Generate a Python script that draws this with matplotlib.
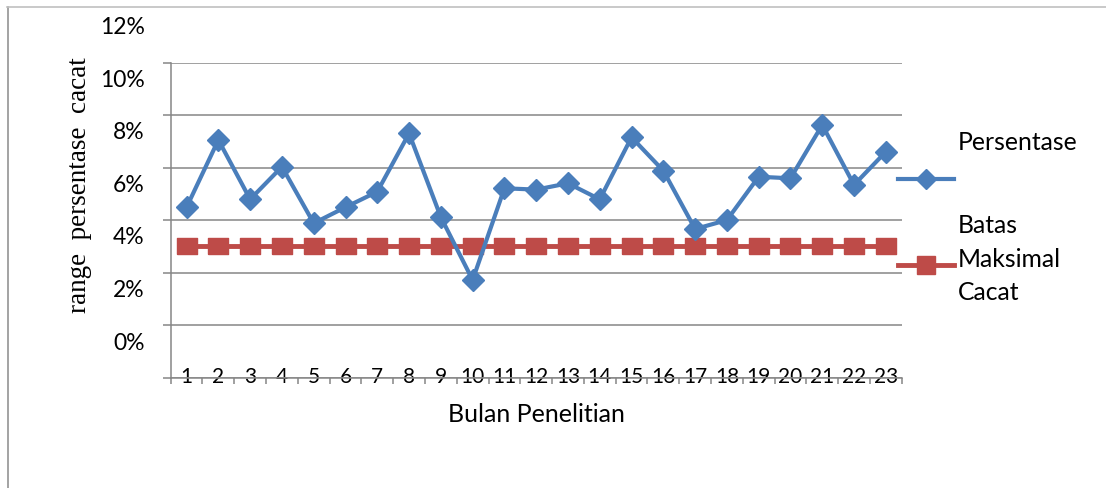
import matplotlib
matplotlib.use("Agg")
import matplotlib.pyplot as plt
from matplotlib.lines import Line2D
from matplotlib.transforms import ScaledTranslation
from matplotlib.ticker import FixedLocator, PercentFormatter

# ---- data ----
months = list(range(1, 24))
persentase = [0.0650, 0.0906, 0.0680, 0.0804, 0.0589, 0.0650, 0.0709, 0.0931,
              0.0612, 0.0373, 0.0722, 0.0717, 0.0741, 0.0680, 0.0916, 0.0789,
              0.0567, 0.0601, 0.0766, 0.0760, 0.0963, 0.0735, 0.0861]
batas = [0.0502] * 23
yticks = [0.00, 0.02, 0.04, 0.06, 0.08, 0.10, 0.12]
series_names = ["Persentase", "Batas\nMaksimal\nCacat"]

W, H, DPI = 1106, 488, 100
BLUE = "#4A7EBB"
RED = "#BE4B48"
GRID = "#868686"
SANS = "Lato"

fig = plt.figure(figsize=(W / DPI, H / DPI), dpi=DPI)

def fx(px):
    return px / W

def fy(py):
    return 1 - py / H

ax = fig.add_axes([fx(170.7), fy(378), fx(901.7) - fx(170.7), fy(62.7) - fy(378)])

ax.plot(months, persentase, color=BLUE, lw=3.0, marker="D", ms=11.5,
        markeredgecolor=BLUE, markerfacecolor=BLUE, solid_joinstyle="miter", zorder=4)
rect = [(-1.25, -1), (1.25, -1), (1.25, 1), (-1.25, 1), (-1.25, -1)]
ax.plot(months, batas, color=RED, lw=3.5, marker=rect, ms=14.5,
        markeredgecolor=RED, markerfacecolor=RED, zorder=3)

ax.set_xlim(0.5, 23.5)
ax.set_ylim(0, 0.12)

# y axis
ax.yaxis.set_major_locator(FixedLocator(yticks))
ax.yaxis.set_major_formatter(PercentFormatter(1.0, decimals=0))
ax.tick_params(axis="y", which="major", direction="out", length=5.8, width=1.1,
               color=GRID, pad=13, labelsize=16.5)
ax.grid(axis="y", color=GRID, lw=1.1)
ax.set_axisbelow(True)

# x axis: labels at month centres, ticks at boundaries
ax.set_xticks(months)
ax.set_xticklabels([str(m) for m in months])
ax.set_xticks([m + 0.5 for m in [0] + months], minor=True)
ax.tick_params(axis="x", which="major", length=0, pad=-8, labelsize=15)
ax.tick_params(axis="x", which="minor", direction="out", length=4, width=1.1, color=GRID)

for lab in ax.get_xticklabels() + ax.get_yticklabels():
    lab.set_fontfamily(SANS)

for sp in ["top", "right"]:
    ax.spines[sp].set_visible(False)
for sp in ["left", "bottom"]:
    ax.spines[sp].set_color(GRID)
    ax.spines[sp].set_linewidth(1.1)

# y tick labels sit above their gridlines in the reference
off = ScaledTranslation(0, 37 / DPI, fig.dpi_scale_trans)
for t in ax.yaxis.get_major_ticks():
    t.label1.set_transform(t.label1.get_transform() + off)

# axis titles
fig.text(fx(80), fy(185), "range  persentase  cacat", rotation=90,
         family="Liberation Serif", fontsize=19.5, ha="center", va="center")
fig.text(fx(536), fy(414), "Bulan Penelitian", family=SANS, fontsize=18,
         ha="center", va="center")

# legend (manual, to match layout)
fig.add_artist(Line2D([fx(898), fx(954)], [fy(179), fy(179)], color=BLUE, lw=3.0,
                      transform=fig.transFigure))
fig.add_artist(Line2D([fx(926)], [fy(179)], color=BLUE, marker="D", ms=10,
                      transform=fig.transFigure))
fig.add_artist(Line2D([fx(898), fx(954)], [fy(265), fy(265)], color=RED, lw=3.5,
                      transform=fig.transFigure))
fig.add_artist(Line2D([fx(926)], [fy(265)], color=RED, marker="s", ms=12.5,
                      transform=fig.transFigure))
fig.text(fx(958), fy(150), series_names[0], family=SANS, fontsize=17.8,
         ha="left", va="baseline")
for txt, base in zip(series_names[1].split("\n"), [233.3, 266.7, 300]):
    fig.text(fx(958), fy(base), txt, family=SANS, fontsize=17.8, ha="left", va="baseline")

# outer frame
fig.add_artist(Line2D([fx(7.5), fx(7.5)], [fy(7), fy(488)], color="#8a8a8a", lw=1.1,
                      transform=fig.transFigure))
fig.add_artist(Line2D([fx(7), 1.0], [fy(7), fy(7)], color="#c0c0c0", lw=1.2,
                      transform=fig.transFigure))

fig.savefig("out.png", dpi=DPI)
